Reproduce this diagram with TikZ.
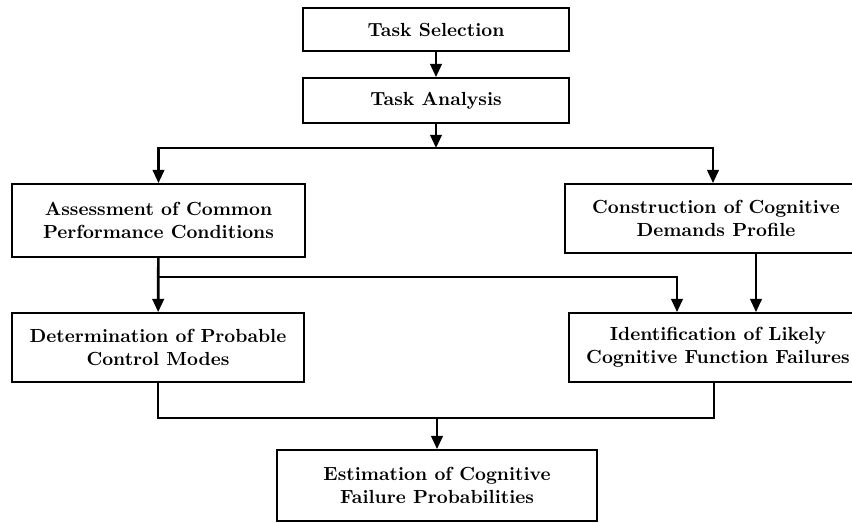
\documentclass[tikz,border=0pt]{standalone}
\usepackage{tikz}
\usetikzlibrary{arrows.meta, positioning, calc}

\begin{document}
\begin{tikzpicture}[x=0.02cm, y=-0.02cm,
  stage/.style={rectangle, draw, line width=1pt, fill=white,
                align=center, inner sep=2pt,
                font=\fontsize{10.8}{12.8}\selectfont\bfseries},
  link/.style={line width=1.5pt},
  arr/.style={link, -{Triangle[width=6.5pt,length=7.5pt]}}
]
\useasboundingbox (0,0) rectangle (852,523);

\node[stage, minimum width=266*0.02cm, minimum height=43*0.02cm] (sel)  at (436,29.5)  {Task Selection};
\node[stage, minimum width=266*0.02cm, minimum height=45*0.02cm] (ana)  at (436,100.5) {Task Analysis};
\node[stage, minimum width=293*0.02cm, minimum height=73*0.02cm] (cpc)  at (158.5,220.5) {Assessment of Common\\Performance Conditions};
\node[stage, minimum width=302*0.02cm, minimum height=69*0.02cm] (cdp)  at (716,218.5) {Construction of Cognitive\\Demands Profile};
\node[stage, minimum width=292*0.02cm, minimum height=69*0.02cm] (mode) at (158,347.5) {Determination of Probable\\Control Modes};
\node[stage, minimum width=298*0.02cm, minimum height=69*0.02cm] (cff)  at (718,347.5) {Identification of Likely\\Cognitive Function Failures};
\node[stage, minimum width=320*0.02cm, minimum height=71*0.02cm] (cfp)  at (437,485.5) {Estimation of Cognitive\\Failure Probabilities};

\coordinate (split) at (436,148);
\coordinate (fork)  at (158.5,277);
\coordinate (merge) at (437,418);

\draw[arr] (sel) -- (ana);
\draw[arr] (ana) -- (split);
\draw[arr] (split) -| (cpc);
\draw[arr] (split) -| ($(cdp.north)+(-3,0)$);
\draw[arr] (cpc) -- (mode);
\draw[arr] (fork) -| ($(cff.north)+(-41,0)$);
\draw[arr] ($(cdp.south)+(40,0)$) coordinate (cdpout) -- (cdpout |- cff.north);
\draw[link] (mode) |- (merge);
\draw[link] ($(cff.south)+(-4,0)$) |- (merge);
\draw[arr] (merge) -- (cfp);
\end{tikzpicture}
\end{document}
